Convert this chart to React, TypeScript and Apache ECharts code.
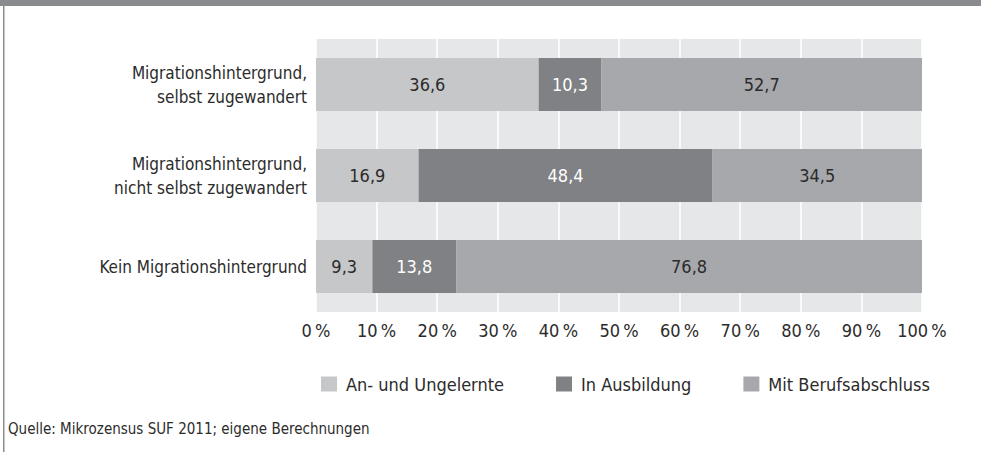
import React, { useEffect, useRef } from "react";
import * as echarts from "echarts";

const categories = [
  "Migrationshintergrund,\nselbst zugewandert",
  "Migrationshintergrund,\nnicht selbst zugewandert",
  "Kein Migrationshintergrund",
];
const seriesNames = ["An- und Ungelernte", "In Ausbildung", "Mit Berufsabschluss"];
const ungelernt = [36.6, 16.9, 9.3];
const ausbildung = [10.3, 48.4, 13.8];
const berufsabschluss = [52.7, 34.5, 76.8];
const tickValues = [0, 10, 20, 30, 40, 50, 60, 70, 80, 90, 100];
const source = "Quelle: Mikrozensus SUF 2011; eigene Berechnungen";

const FONT = "'DejaVu Sans Condensed', 'Open Sans', sans-serif";
const colors = ["#c6c7c9", "#808184", "#a7a8ab"];
const labelColors = ["#2b2b2b", "#ffffff", "#2b2b2b"];

export default function App() {
  const ref = useRef<HTMLDivElement>(null);
  useEffect(() => {
    const chart = echarts.init(ref.current!, null, { renderer: "svg" });
    const data = [ungelernt, ausbildung, berufsabschluss];
    // rows are shares that sum to (rounded) 100 %, drawn as full-width bars
    const rowSums = categories.map((_, r) => data.reduce((s, arr) => s + arr[r], 0));
    chart.setOption({
      animation: false,
      backgroundColor: "#ffffff",
      textStyle: { fontFamily: FONT },
      grid: { left: 316, top: 39, width: 606, height: 273, containLabel: false },
      xAxis: {
        type: "value",
        min: 0,
        max: 100,
        interval: 10,
        axisLine: { show: false },
        axisTick: { show: false },
        splitLine: { show: true, lineStyle: { color: "#ffffff", width: 1.5 } },
        axisLabel: {
          color: "#2b2b2b",
          fontSize: 18,
          fontFamily: FONT,
          margin: 9,
          formatter: (v: number) => (tickValues.includes(v) ? v + "\u2009%" : ""),
        },
      },
      yAxis: {
        type: "category",
        data: categories,
        inverse: true,
        axisLine: { show: false },
        axisTick: { show: false },
        splitArea: { show: true, areaStyle: { color: ["#e6e7e8", "#e6e7e8"] } },
        axisLabel: {
          color: "#2b2b2b",
          fontSize: 17,
          fontFamily: FONT,
          margin: 9,
          lineHeight: 24,
          align: "right",
        },
      },
      legend: {
        top: 370,
        left: 316,
        itemWidth: 16,
        itemHeight: 15,
        itemGap: 52,
        icon: "rect",
        textStyle: { color: "#2b2b2b", fontSize: 18, fontFamily: FONT, padding: [0, 0, 0, 4] },
        data: seriesNames,
      },
      graphic: [
        { type: "rect", shape: { x: 0, y: 0, width: 981, height: 6 }, style: { fill: "#8a8b8f" } },
        { type: "rect", shape: { x: 3, y: 6, width: 1.5, height: 446 }, style: { fill: "#8a8b8f" } },
        {
          type: "text",
          left: 8,
          top: 421,
          style: { text: source, fill: "#2b2b2b", fontSize: 15, fontFamily: FONT },
        },
      ],
      series: seriesNames.map((name, i) => ({
        name,
        type: "bar",
        stack: "total",
        barWidth: "58%",
        data: data[i].map((v, r) => ({ value: (v / rowSums[r]) * 100, raw: v })),
        itemStyle: { color: colors[i] },
        label: {
          show: true,
          position: "inside",
          color: labelColors[i],
          fontSize: 18,
          fontFamily: FONT,
          formatter: (p: any) => data[i][p.dataIndex].toFixed(1).replace(".", ","),
        },
      })),
    });
    return () => chart.dispose();
  }, []);
  return <div ref={ref} style={{ width: 981, height: 452, position: "absolute", left: 0, top: 0 }} />;
}
